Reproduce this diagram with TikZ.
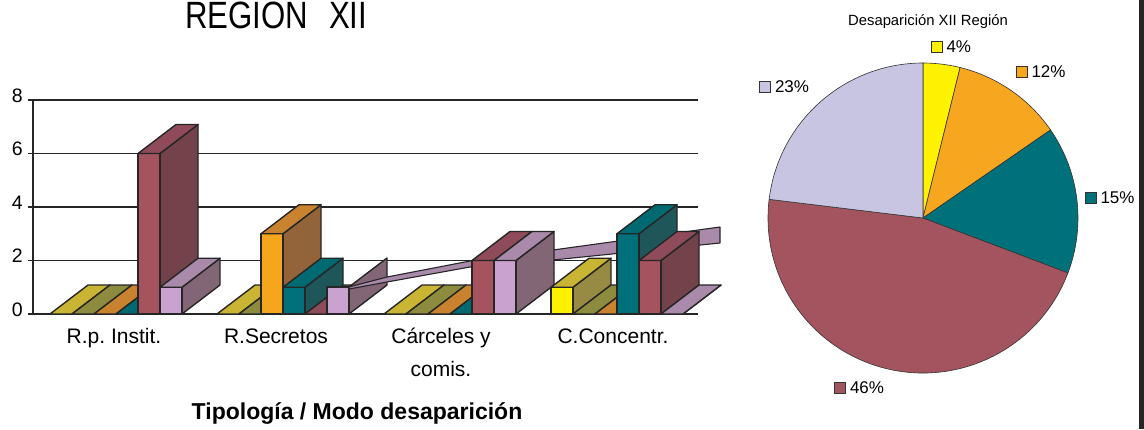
\documentclass[tikz,border=0pt]{standalone}
\usepackage{fontspec}
\setmainfont{Liberation Sans}
\newfontfamily\titlefont[FakeStretch=0.82]{Liberation Sans}
\usetikzlibrary{positioning}
\frenchspacing

% bar colours: front, top, side of each series
\definecolor{s1F}{HTML}{FFF000}\definecolor{s1T}{HTML}{C9B434}\definecolor{s1S}{HTML}{978A42}
\definecolor{s2F}{HTML}{A0A048}\definecolor{s2T}{HTML}{8D8C3E}\definecolor{s2S}{HTML}{6F6E33}
\definecolor{s3F}{HTML}{F6A61C}\definecolor{s3T}{HTML}{C9832E}\definecolor{s3S}{HTML}{93643A}
\definecolor{s4F}{HTML}{00717B}\definecolor{s4T}{HTML}{006A72}\definecolor{s4S}{HTML}{1F5659}
\definecolor{s5F}{HTML}{A4535F}\definecolor{s5T}{HTML}{8F4B59}\definecolor{s5S}{HTML}{73424B}
\definecolor{s6F}{HTML}{C9A2D0}\definecolor{s6T}{HTML}{A98AAA}\definecolor{s6S}{HTML}{826676}
% pie colours
\definecolor{pY}{HTML}{FFF200}
\definecolor{pO}{HTML}{F7A71F}
\definecolor{pT}{HTML}{00717B}
\definecolor{pM}{HTML}{A4545F}
\definecolor{pL}{HTML}{C8C5E2}

% one 3d bar: left x, value, series
\newcommand{\barbox}[3]{%
  \filldraw[bar line,fill=s#3S] (#1+22,314) -- (#1+22,{314-#2*26.75}) -- (#1+60,{285-#2*26.75}) -- (#1+60,285) -- cycle;
  \filldraw[bar line,fill=s#3F] (#1,314) rectangle (#1+22,{314-#2*26.75});
  \filldraw[bar line,fill=s#3T] (#1,{314-#2*26.75}) -- (#1+38,{285-#2*26.75}) -- (#1+60,{285-#2*26.75}) -- (#1+22,{314-#2*26.75}) -- cycle;
}

\begin{document}
\begin{tikzpicture}[x=1pt,y=-1pt,
  grid line/.style={draw=black!85,line width=1.8pt},
  bar line/.style={draw=black!85,line width=1.4pt,line join=round},
  slice/.style={draw=black!80,line width=0.6pt},
  key box/.style={draw=black!80,line width=0.6pt,minimum size=11pt,inner sep=0pt},
  key text/.style={font=\fontsize{17}{17}\selectfont,inner sep=0pt},
  tick text/.style={font=\fontsize{19.5}{19.5}\selectfont,inner sep=0pt,anchor=base east},
  cat text/.style={font=\fontsize{21}{21}\selectfont,inner sep=0pt,anchor=base}]

  \useasboundingbox (0,0) rectangle (1144,429);

  % titles
  \node[font=\titlefont\fontsize{38}{38}\selectfont,inner sep=0pt,anchor=base west] (title) at (185,28) {REGION\hspace{21pt}XII};
  \node[font=\fontsize{14.8}{15}\selectfont,inner sep=0pt,anchor=base] (pietitle) at (928,25) {Desaparición XII Región};

  % grid and axis
  \foreach \v in {0,2,4,6,8} {
    \draw[grid line] (28,{314-\v*26.75}) -- (698,{314-\v*26.75});
    \node[tick text] (t\v) at (23,{316-\v*26.75}) {\v};
  }
  \draw[grid line] (33,100) -- (33,314);

  % R.p. Instit.
  \barbox{50}{0}{1}
  \barbox{72}{0}{2}
  \barbox{94}{0}{3}
  \barbox{116}{0}{4}
  \barbox{138}{6}{5}
  \barbox{160}{1}{6}

  % R.Secretos
  \barbox{217}{0}{1}
  \barbox{239}{0}{2}
  \barbox{261}{3}{3}
  \barbox{283}{1}{4}
  \barbox{305}{0}{5}
  \filldraw[bar line,fill=s6S] (349,314) -- (349,287) -- (387,258) -- (387,285) -- cycle;
  \filldraw[bar line,fill=s6F] (327,314) rectangle (349,287);
  \filldraw[bar line,line width=1.1pt,fill=s6T] (349,287) -- (387,277) -- (470,261) -- (553,250) -- (720,227)
    -- (720,243) -- (553,260) -- (470,267) -- (387,282) -- (349,289) -- cycle;

  % Carceles y comis.
  \barbox{384}{0}{1}
  \barbox{406}{0}{2}
  \barbox{428}{0}{3}
  \barbox{450}{0}{4}
  \barbox{472}{2}{5}
  \barbox{494}{2}{6}

  % C.Concentr.
  \barbox{551}{1}{1}
  \barbox{573}{0}{2}
  \barbox{595}{0}{3}
  \barbox{617}{3}{4}
  \barbox{639}{2}{5}
  \barbox{661}{0}{6}

  % category labels
  \node[cat text] (c1) at (114,343) {R.p. Instit.};
  \node[cat text] (c2) at (276,343) {R.Secretos};
  \node[cat text] (c3) at (441,343) {Cárceles y};
  \node[cat text] (c3b) at (441,376) {comis.};
  \node[cat text] (c4) at (613,343) {C.Concentr.};
  \node[font=\bfseries\fontsize{23}{23}\selectfont,inner sep=0pt,anchor=base] (xtitle) at (357,419) {Tipología / Modo desaparición};

  % pie
  \begin{scope}[shift={(923,218)},yscale=-1]
    \foreach \a/\b/\c in {90/76.15/pY, 76.15/34.62/pO, 34.62/-20.77/pT, -20.77/-186.92/pM, -186.92/-270/pL}
      \filldraw[slice,fill=\c] (0,0) -- (\a:155) arc[start angle=\a,end angle=\b,radius=155] -- cycle;
  \end{scope}

  % pie labels
  \node[key box,fill=pY] (k1) at (936.5,46.5) {};
  \node[key text,right=4pt of k1] (l1) {4\%};
  \node[key box,fill=pO] (k2) at (1021.5,72) {};
  \node[key text,right=4pt of k2] (l2) {12\%};
  \node[key box,fill=pT] (k3) at (1090.5,197.5) {};
  \node[key text,right=4pt of k3] (l3) {15\%};
  \node[key box,fill=pM] (k4) at (840,387.5) {};
  \node[key text,right=4pt of k4] (l4) {46\%};
  \node[key box,fill=pL] (k5) at (765,86.5) {};
  \node[key text,right=4pt of k5] (l5) {23\%};

  % right border
  \fill[black!85] (1139,0) rectangle (1144,429);
\end{tikzpicture}
\end{document}
